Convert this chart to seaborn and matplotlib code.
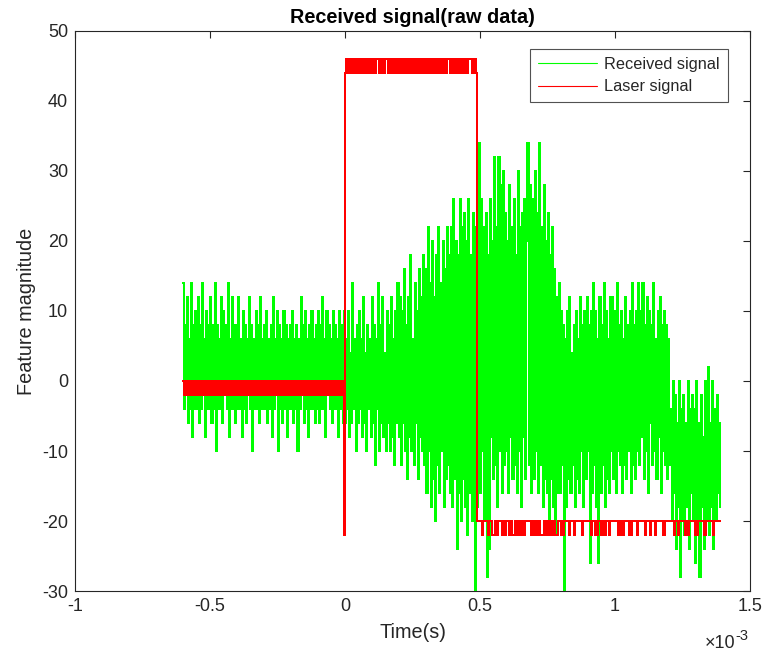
import numpy as np
import pandas as pd
import matplotlib
matplotlib.use("Agg")
import matplotlib.pyplot as plt
from matplotlib.ticker import FuncFormatter
import seaborn as sns

# Sample grid (ms): one row of 25 samples per 0.1 ms
t_start_ms, t_end_ms = -0.6, 1.39

# Received signal (quantised, step 2)
received = [
    14, -4, 8, -2, 12, -6, 6, -4, 14, -8, 8, -4, 10, -4, 12, -6, 8, -4, 14, -2, 6, -8, 10, -4, 8,
    -4, 12, -6, 8, -4, 14, -10, 8, -4, 6, -4, 12, -6, 10, -2, 8, -4, 14, -8, 6, -4, 12, -4, 8, -6,
    8, -4, 12, -4, 6, -8, 10, -4, 8, -6, 6, -2, 12, -4, 8, -10, 6, -4, 10, -4, 8, -6, 12, -4, 6,
    -4, 8, -4, 10, -6, 6, -4, 8, -8, 12, -4, 6, -2, 10, -10, 8, -4, 6, -6, 10, -4, 8, -8, 6, -4,
    8, -4, 10, -6, 6, -4, 8, -10, 6, -4, 12, -2, 8, -6, 10, -4, 6, -8, 8, -4, 10, -4, 6, -6, 8,
    -4, 10, -6, 8, -4, 12, -4, 6, -8, 10, -2, 8, -4, 6, -6, 10, -4, 8, -4, 6, -8, 10, -4, 8, -6,
    10, -6, 6, -4, 10, -8, 4, -6, 14, -4, 6, -10, 8, -6, 10, -4, 6, -8, 12, -6, 4, -10, 8, -4, 6,
    -8, 12, -6, 8, -12, 6, -4, 14, -10, 8, -6, 12, -8, 4, -10, 10, -6, 8, -10, 12, -8, 6, -12, 10, -6,
    14, -8, 12, -12, 10, -6, 16, -10, 8, -14, 12, -8, 18, -10, 6, -12, 14, -6, 10, -14, 16, -8, 12, -10, 18,
    -12, 16, -16, 22, -10, 14, -18, 20, -14, 12, -20, 18, -12, 22, -16, 14, -10, 20, -18, 16, -14, 22, -12, 18, -16,
    22, -18, 26, -14, 20, -24, 18, -16, 26, -20, 22, -14, 24, -18, 20, -22, 26, -16, 18, -20, 24, -14, -30, 22, -18,
    -12, 34, -16, 26, -10, 22, -20, 24, -28, 18, -24, 26, -8, 20, -14, 32, -12, 22, -18, 32, -10, 28, -16, 30, -12,
    24, -10, 20, -16, 28, -8, 22, -14, 26, -12, 18, -16, 30, -10, 22, -18, 24, -8, 26, -14, 20, 34, -12, 28, -16,
    -12, 26, -14, 30, -10, 24, -16, 34, -12, 22, -18, 28, -14, 20, -16, 24, -20, 18, -14, 22, -18, 16, -22, 12, -16,
    14, -16, 10, -12, 8, -30, 6, -18, 10, -14, 12, -16, 4, -12, 8, -18, 10, -14, 6, -16, 12, -10, 8, -18, 10,
    -14, 12, -10, 8, -26, 10, -16, 14, -12, 10, -18, 6, -26, 12, -16, 8, -12, 14, -18, 10, -14, 6, -16, 12, -10,
    12, -14, 10, -16, 14, -10, 8, -12, 10, -16, 6, -12, 12, -14, 8, -10, 10, -16, 14, -12, 8, -14, 10, -10, 14,
    -12, 10, -8, 14, -14, 8, -10, 12, -16, 10, -6, 8, -12, 14, -10, 6, -14, 10, -8, 12, -16, 8, -10, 10, -12,
    8, -14, 6, -12, -4, -20, 0, -16, -2, -24, -6, -18, 0, -28, -4, -20, -2, -22, -6, -18, 0, -24, -4, -16, -2,
    -20, -4, -26, 0, -22, -6, -28, -2, -18, -8, -24, 0, -20, -4, 2, -22, -6, -18, 0, -24, -4, -20, -2, -16, -6, -18,
]

# Laser trigger signal on the same grid
laser = [
    0, -2, 0, -2, 0, -2, 0, -2, 0, -2, 0, -2, 0, -2, 0, -2, 0, -2, 0, -2, 0, -2, 0, -2, 0,
    -2, 0, -2, 0, -2, 0, -2, 0, -2, 0, -2, 0, -2, 0, -2, 0, -2, 0, -2, 0, -2, 0, -2, 0, -2,
    0, -2, 0, -2, 0, -2, 0, -2, 0, -2, 0, -2, 0, -2, 0, -2, 0, -2, 0, -2, 0, -2, 0, -2, 0,
    -2, 0, -2, 0, -2, 0, -2, 0, -2, 0, -2, 0, -2, 0, -2, 0, -2, 0, -2, 0, -2, 0, -2, 0, -2,
    0, -2, 0, -2, 0, -2, 0, -2, 0, -2, 0, -2, 0, -2, 0, -2, 0, -2, 0, -2, 0, -2, 0, -2, 0,
    -2, 0, -2, 0, -2, 0, -2, 0, -2, 0, -2, 0, -2, 0, -2, 0, -2, 0, -2, 0, -2, 0, -2, 0, -2,
    -22, 44, 46, 44, 46, 44, 46, 44, 46, 44, 46, 44, 46, 44, 46, 44, 46, 44, 46, 44, 46, 44, 46, 44, 46,
    44, 46, 44, 46, 44, 46, 46, 46, 44, 46, 44, 46, 44, 46, 46, 46, 44, 46, 44, 46, 44, 46, 44, 46, 44,
    46, 44, 46, 44, 46, 44, 46, 44, 46, 44, 46, 44, 46, 44, 46, 44, 46, 44, 46, 44, 46, 44, 46, 44, 46,
    44, 46, 44, 46, 44, 46, 44, 46, 44, 46, 44, 46, 44, 46, 44, 46, 44, 46, 44, 46, 44, 46, 46, 46, 44,
    46, 44, 46, 44, 46, 44, 46, 44, 46, 44, 46, 44, 46, 44, 46, 44, 46, 46, 46, 44, 46, 44, 46, 44, -20,
    -20, -20, -20, -20, -22, -20, -20, -20, -20, -22, -20, -20, -20, -22, -22, -22, -20, -20, -22, -20, -20, -20, -22, -20, -20,
    -22, -20, -20, -20, -22, -22, -20, -22, -22, -20, -22, -22, -20, -20, -22, -22, -20, -22, -22, -20, -20, -20, -20, -20, -22,
    -22, -20, -22, -20, -20, -22, -22, -20, -22, -22, -22, -20, -22, -20, -22, -20, -22, -22, -20, -22, -22, -20, -22, -22, -20,
    -20, -20, -22, -20, -22, -20, -20, -20, -20, -20, -22, -20, -20, -20, -22, -20, -20, -20, -20, -20, -20, -20, -22, -20, -20,
    -20, -20, -20, -20, -20, -22, -20, -20, -20, -22, -20, -22, -20, -20, -22, -22, -20, -22, -22, -20, -20, -20, -22, -20, -20,
    -20, -20, -20, -20, -20, -22, -20, -22, -20, -20, -22, -20, -20, -20, -20, -22, -20, -22, -20, -20, -20, -20, -20, -22, -20,
    -20, -20, -20, -20, -20, -22, -20, -20, -20, -20, -22, -20, -20, -20, -20, -22, -20, -20, -20, -20, -20, -20, -22, -22, -20,
    -20, -20, -20, -20, -20, -20, -20, -22, -20, -20, -20, -22, -20, -20, -20, -20, -20, -20, -22, -20, -22, -20, -20, -20, -20,
    -20, -20, -22, -20, -22, -20, -20, -20, -20, -20, -22, -22, -20, -20, -20, -20, -20, -20, -20, -22, -20, -20, -20, -20, -20, -20,
]

series_names = ["Received signal", "Laser signal"]
series_colors = ["#00ff00", "#ff0000"]
x_ticks_ms = [-1, -0.5, 0, 0.5, 1, 1.5]
y_ticks = [-30, -20, -10, 0, 10, 20, 30, 40, 50]

time_s = np.linspace(t_start_ms, t_end_ms, len(received)) * 1e-3
df = pd.concat([
    pd.DataFrame({"time": time_s, "value": received, "signal": series_names[0]}),
    pd.DataFrame({"time": time_s, "value": laser, "signal": series_names[1]}),
], ignore_index=True)

sns.set_style("white")
plt.rcParams["font.family"] = ["Liberation Sans", "DejaVu Sans"]
plt.rcParams["axes.unicode_minus"] = False

fig = plt.figure(figsize=(7.62, 6.55), dpi=100)
ax = fig.add_axes([0.0984, 0.0977, 0.886, 0.855])

# sampled traces drawn as held (step) values, crisp pixels
sns.lineplot(data=df, x="time", y="value", hue="signal", hue_order=series_names,
             palette=dict(zip(series_names, series_colors)), estimator=None,
             sort=False, linewidth=1.1, drawstyle="steps-mid", antialiased=False,
             ax=ax, legend=False)

ax.set_xlim(-1e-3, 1.5e-3)
ax.set_ylim(-30, 50)
ax.set_xticks([v * 1e-3 for v in x_ticks_ms])
ax.xaxis.set_major_formatter(FuncFormatter(lambda v, p: f"{v * 1e3:g}"))
ax.set_yticks(y_ticks)

edge = "#262626"
for sp in ax.spines.values():
    sp.set_visible(True)
    sp.set_color(edge)
    sp.set_linewidth(0.8)
ax.tick_params(direction="in", length=5, width=0.8, color=edge, labelcolor=edge,
               labelsize=13, top=True, right=True, pad=5)

ax.set_xlabel("Time(s)", fontsize=14.3, color=edge, labelpad=6)
ax.set_ylabel("Feature magnitude", fontsize=14.3, color=edge, labelpad=4)
ax.set_title("Received signal(raw data)", fontsize=14.3, fontweight="bold",
             color="black", pad=6)

# exponent note for the time axis
ax.text(0.978, -0.093, "\u00d710", transform=ax.transAxes, ha="right",
        va="center", fontsize=13, color=edge)
ax.text(0.978, -0.080, "-3", transform=ax.transAxes, ha="left",
        va="center", fontsize=10.5, color=edge)

handles = [plt.Line2D([], [], color=c, linewidth=0.8) for c in series_colors]
leg = ax.legend(handles, series_names, loc="upper right", bbox_to_anchor=(0.967, 0.968),
                borderaxespad=0, frameon=True, fancybox=False, fontsize=11.7,
                handlelength=3.6, handletextpad=0.45, borderpad=0.5, labelspacing=0.45)
leg.get_frame().set_edgecolor(edge)
leg.get_frame().set_linewidth(0.8)

fig.savefig("out.png", dpi=100)
